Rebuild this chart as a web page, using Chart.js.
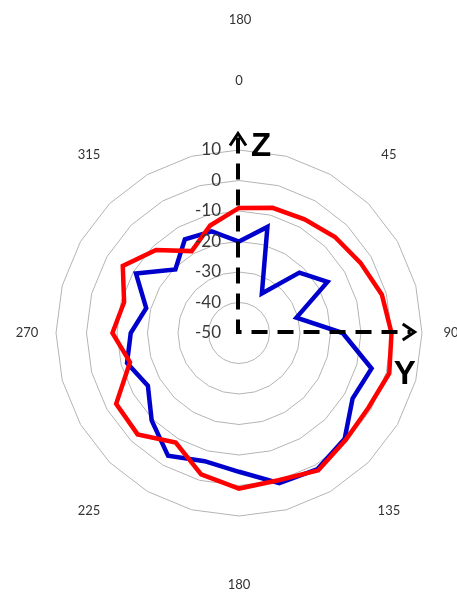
<!DOCTYPE html>
<html>
<head>
<meta charset="utf-8">
<script src="https://cdn.jsdelivr.net/npm/chart.js@4"></script>
<style>
    body { margin: 0; background: #fff; }
    canvas { display: block; }
</style>
</head>
<body>
<canvas id="pattern" width="457" height="594"></canvas>
<script>
// angles in degrees, every 15
const angles = ['0', '15', '30', '45', '60', '75', '90', '105', '120', '135', '150', '165',
    '180', '195', '210', '225', '240', '255', '270', '285', '300', '315', '330', '345'];
const redValues = [-9, -7.5, -7, -5.5, -4, -1.5, 0, 1, -1, -0.5, 2, 0,
    1, -2, -8.5, -3, -3.5, -13, -8.5, -11, -6, -11.5, -19, -13.5];
const blueValues = [-20, -14, -35, -22, -16.5, -30.5, -16, -5, -7, -1, 1.5, 1,
    -4.5, -6.5, -3.5, -9.5, -15.5, -12, -14.5, -18.5, -11, -20.5, -14.5, -15.5];
const shownAngles = ['0', '45', '90', '135', '180', '225', '270', '315'];
const topLabel = '180';
const axisNames = ['Z', 'Y'];

const overlay = {
    id: 'overlay',
    afterDatasetsDraw(chart) {
        const ctx = chart.ctx;
        const r = chart.scales.r;
        const cx = r.xCenter, cy = r.yCenter, R = r.drawingArea;

        ctx.save();
        // dashed axes with open arrow heads
        ctx.strokeStyle = '#000';
        ctx.lineWidth = 4;
        ctx.setLineDash([16, 10]);
        const up = R * 1.09, right = R * 0.96;
        ctx.beginPath();
        ctx.moveTo(cx - 1, cy - up + 4);
        ctx.lineTo(cx - 1, cy - 1);
        ctx.lineTo(cx + right - 4, cy - 1);
        ctx.stroke();
        ctx.setLineDash([]);
        ctx.lineWidth = 3;
        ctx.beginPath();
        ctx.moveTo(cx - 9, cy - up + 12);
        ctx.lineTo(cx - 1, cy - up);
        ctx.lineTo(cx + 7, cy - up + 12);
        ctx.moveTo(cx + right - 12, cy - 9);
        ctx.lineTo(cx + right, cy - 1);
        ctx.lineTo(cx + right - 12, cy + 7);
        ctx.stroke();

        ctx.font = 'bold 33px "Liberation Sans"';
        ctx.textAlign = 'center';
        ctx.textBaseline = 'middle';
        ctx.fillText(axisNames[0], cx + 22, cy - up + 13);
        ctx.fillText(axisNames[1], cx + right - 10, cy + 42);

        // ring values, left of the Z axis
        ctx.font = '17px Lato';
        ctx.fillStyle = '#383838';
        ctx.textAlign = 'right';
        r.ticks.forEach(t => {
            const d = r.getDistanceFromCenterForValue(t.value);
            ctx.fillText(t.label, cx - 18, cy - d);
        });

        // angle labels, on an ellipse round the plot
        ctx.font = '13px Lato';
        ctx.fillStyle = '#333';
        ctx.textAlign = 'center';
        angles.forEach((a, i) => {
            if (!shownAngles.includes(a)) return;
            const p = r.getPointPosition(i, R);
            const x = cx + (p.x - cx) * 212 / R;
            const y = cy + (p.y - cy) * 252 / R;
            ctx.fillText(a, x, y);
        });
        ctx.fillText(topLabel, cx + 1, 20);
        ctx.restore();
    }
};

const ctx = document.getElementById('pattern').getContext('2d');
const patternChart = new Chart(ctx, {
    type: 'radar',
    data: {
        labels: angles,
        datasets: [{
            label: 'red',
            data: redValues,
            borderColor: '#FF0000',
            borderWidth: 4.5,
            fill: false,
            pointRadius: 0,
            tension: 0
        }, {
            label: 'blue',
            data: blueValues,
            borderColor: '#0000CC',
            borderWidth: 4.5,
            fill: false,
            pointRadius: 0,
            tension: 0
        }]
    },
    options: {
        responsive: false,
        animation: false,
        layout: {
            padding: { left: 56, right: 35, top: 150, bottom: 78 }
        },
        plugins: {
            legend: { display: false },
            tooltip: { enabled: false }
        },
        scales: {
            r: {
                min: -50,
                max: 10,
                ticks: { stepSize: 10, display: false },
                pointLabels: { display: false },
                angleLines: { display: false },
                grid: { color: '#B4B4B4', lineWidth: 1 }
            }
        }
    },
    plugins: [overlay]
});
</script>
</body>
</html>
